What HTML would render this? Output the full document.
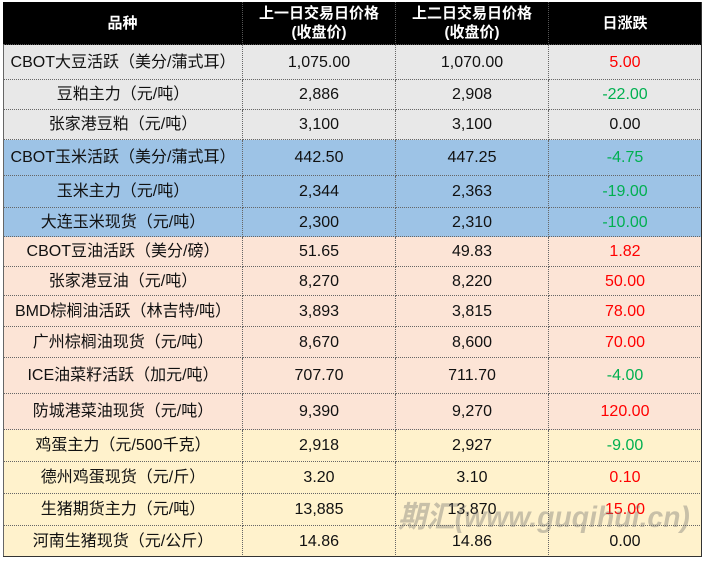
<!DOCTYPE html>
<html><head><meta charset="utf-8"><style>
body{margin:0;width:706px;height:561px;background:#fff;position:relative;overflow:hidden;font-family:"Liberation Sans","Noto Sans CJK SC",sans-serif;}
.c{position:absolute;display:flex;align-items:center;justify-content:center;font-size:16px;color:#111;box-sizing:border-box;border-right:1px dotted #666;border-bottom:1px dotted #666;text-align:center;line-height:19px}
.h{background:#000;color:#fff;font-weight:bold;border-color:#555;font-size:15px}
.g{color:#00b050}.r{color:#ff0000}
.wm{position:absolute;left:398px;top:496px;font-size:30px;line-height:44px;font-weight:bold;font-style:italic;color:rgba(110,110,110,0.38);white-space:nowrap;transform-origin:0 0;font-family:"Liberation Sans","Noto Sans CJK SC",sans-serif;}
</style></head><body>
<div id="t"></div>
<script>
var ys=[2,45,80,110,140,176,208,237,267,296,327,358,394,430,462,494,526,557];
var xs=[3,243,396,549,702];
var rows=[
["CBOT大豆活跃（美分/蒲式耳）","1,075.00","1,070.00","5.00","r","#e8e8e8"],
["豆粕主力（元/吨）","2,886","2,908","-22.00","g","#e8e8e8"],
["张家港豆粕（元/吨）","3,100","3,100","0.00","","#e8e8e8"],
["CBOT玉米活跃（美分/蒲式耳）","442.50","447.25","-4.75","g","#9dc3e6"],
["玉米主力（元/吨）","2,344","2,363","-19.00","g","#9dc3e6"],
["大连玉米现货（元/吨）","2,300","2,310","-10.00","g","#9dc3e6"],
["CBOT豆油活跃（美分/磅）","51.65","49.83","1.82","r","#fce4d6"],
["张家港豆油（元/吨）","8,270","8,220","50.00","r","#fce4d6"],
["BMD棕榈油活跃（林吉特/吨）","3,893","3,815","78.00","r","#fce4d6"],
["广州棕榈油现货（元/吨）","8,670","8,600","70.00","r","#fce4d6"],
["ICE油菜籽活跃（加元/吨）","707.70","711.70","-4.00","g","#fce4d6"],
["防城港菜油现货（元/吨）","9,390","9,270","120.00","r","#fce4d6"],
["鸡蛋主力（元/500千克）","2,918","2,927","-9.00","g","#fff2cc"],
["德州鸡蛋现货（元/斤）","3.20","3.10","0.10","r","#fff2cc"],
["生猪期货主力（元/吨）","13,885","13,870","15.00","r","#fff2cc"],
["河南生猪现货（元/公斤）","14.86","14.86","0.00","","#fff2cc"]];
var h="";
function cell(x0,x1,y0,y1,txt,cls,bg,extra){return '<div class="c '+cls+'" style="left:'+x0+'px;top:'+y0+'px;width:'+(x1-x0)+'px;height:'+(y1-y0)+'px;'+(bg?'background:'+bg+';':'')+(extra||'')+'">'+txt+'</div>';}
var hd=["品种","上一日交易日价格<br>(收盘价)","上二日交易日价格<br>(收盘价)","日涨跌"];
for(var i=0;i<4;i++)h+=cell(xs[i],xs[i+1],ys[0],ys[1],hd[i],"h","");
rows.forEach(function(r,j){
 for(var i=0;i<4;i++){var cls=i==3?r[4]:"";h+=cell(xs[i],xs[i+1],ys[j+1],ys[j+2],r[i],cls,r[5],i==0?'border-left:1px solid #666;':'');}
});
h+='<div style="position:absolute;left:3px;top:556px;width:699px;height:1px;background:#333"></div>';
h+='<div style="position:absolute;left:701px;top:2px;width:1px;height:555px;background:#333"></div>';
h+='<div class="wm" id="wm">期汇(www.guqihui.cn)</div>';
document.getElementById("t").innerHTML=h;
var w=document.getElementById("wm");var sw=w.offsetWidth;w.style.transform="scaleX("+(292/sw)+")";
</script>
</body></html>
